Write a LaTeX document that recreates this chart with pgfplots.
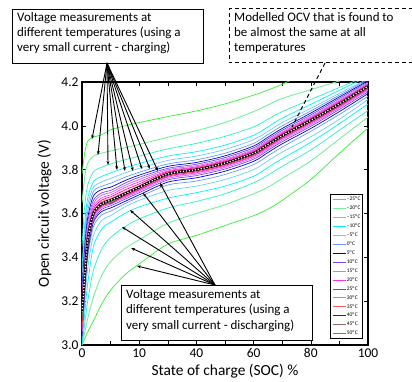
\documentclass[border=0pt]{standalone}
\usepackage{fontspec}
\setmainfont{Carlito}
\usepackage{pgfplots}
\usepackage{pgfplotstable}
\pgfplotsset{compat=1.18}
\usetikzlibrary{arrows.meta}

\definecolor{tA}{HTML}{33EE33}
\definecolor{tB}{HTML}{77EE99}
\definecolor{tC}{HTML}{22F5C0}
\definecolor{tD}{HTML}{00F0FF}
\definecolor{tE}{HTML}{66CCFF}
\definecolor{tF}{HTML}{6699EE}
\definecolor{tG}{HTML}{0000CC}
\definecolor{tH}{HTML}{7744EE}
\definecolor{tI}{HTML}{CC77FF}
\definecolor{tJ}{HTML}{FF33EE}
\definecolor{tK}{HTML}{FF0099}
\definecolor{tL}{HTML}{FF6688}
\definecolor{tM}{HTML}{FF5555}
\definecolor{tN}{HTML}{990000}
\definecolor{tO}{HTML}{996666}
\definecolor{tP}{HTML}{777777}

\pgfplotstableread{
s B cm25 cm20 cm15 cm10 cm5 c0 c5 c10 c15 c20 c25 c30 c35 c40 c45 c50 dm25 dm20 dm15 dm10 dm5 d0 d5 d10 d15 d20 d25 d30 d35 d40 d45 d50
0 3.15 3.78 3.65 3.45 3.35 3.30 3.27 3.25 3.23 3.21 3.20 3.19 3.18 3.17 3.165 3.16 3.155 3.00 3.00 3.00 3.01 3.02 3.03 3.04 3.05 3.06 3.07 3.08 3.09 3.10 3.11 3.12 3.13
1 3.32 3.88 3.77 3.64 3.56 3.52 3.48 3.45 3.42 3.40 3.38 3.36 3.345 3.335 3.33 3.325 3.322 3.03 3.06 3.10 3.15 3.20 3.24 3.26 3.28 3.29 3.30 3.305 3.31 3.313 3.315 3.317 3.318
2 3.48 3.93 3.83 3.73 3.67 3.64 3.61 3.58 3.56 3.54 3.52 3.505 3.495 3.49 3.486 3.483 3.481 3.06 3.12 3.20 3.28 3.35 3.40 3.42 3.44 3.45 3.46 3.465 3.47 3.473 3.475 3.477 3.478
4 3.60 3.948 3.862 3.79 3.745 3.72 3.70 3.68 3.66 3.645 3.632 3.62 3.61 3.605 3.603 3.602 3.601 3.11 3.22 3.34 3.45 3.50 3.54 3.56 3.57 3.58 3.585 3.59 3.593 3.595 3.597 3.598 3.599
7 3.645 3.96 3.876 3.812 3.77 3.745 3.725 3.71 3.695 3.685 3.672 3.662 3.655 3.65 3.648 3.647 3.646 3.19 3.32 3.44 3.53 3.57 3.595 3.61 3.62 3.628 3.633 3.637 3.639 3.64 3.641 3.642 3.643
10 3.66 3.982 3.885 3.826 3.785 3.76 3.738 3.72 3.705 3.695 3.685 3.676 3.668 3.664 3.663 3.662 3.661 3.25 3.38 3.49 3.56 3.59 3.61 3.625 3.635 3.642 3.648 3.651 3.653 3.648 3.645 3.647 3.65
15 3.69 4.00 3.90 3.845 3.808 3.785 3.765 3.75 3.738 3.728 3.718 3.707 3.698 3.694 3.693 3.692 3.691 3.32 3.44 3.54 3.60 3.63 3.645 3.655 3.665 3.672 3.677 3.68 3.683 3.685 3.687 3.688 3.689
20 3.72 4.015 3.915 3.862 3.828 3.806 3.788 3.775 3.765 3.755 3.745 3.735 3.727 3.724 3.723 3.722 3.721 3.37 3.48 3.575 3.63 3.66 3.675 3.685 3.695 3.702 3.707 3.71 3.713 3.715 3.717 3.718 3.719
30 3.78 4.042 3.948 3.895 3.862 3.842 3.826 3.815 3.806 3.80 3.794 3.79 3.786 3.784 3.783 3.782 3.781 3.46 3.555 3.625 3.67 3.705 3.73 3.743 3.753 3.76 3.766 3.77 3.773 3.775 3.777 3.778 3.779
40 3.80 4.068 3.978 3.92 3.882 3.862 3.845 3.833 3.825 3.818 3.813 3.809 3.806 3.804 3.803 3.802 3.801 3.50 3.60 3.655 3.695 3.725 3.748 3.763 3.773 3.78 3.786 3.79 3.793 3.795 3.797 3.798 3.799
50 3.83 4.10 4.015 3.952 3.912 3.892 3.875 3.863 3.855 3.848 3.843 3.839 3.836 3.834 3.833 3.832 3.831 3.545 3.64 3.69 3.725 3.755 3.778 3.793 3.803 3.81 3.816 3.82 3.823 3.825 3.827 3.828 3.829
60 3.875 4.14 4.065 3.995 3.957 3.937 3.92 3.908 3.90 3.893 3.888 3.884 3.881 3.879 3.878 3.877 3.876 3.59 3.69 3.74 3.77 3.80 3.823 3.838 3.848 3.855 3.861 3.865 3.868 3.87 3.872 3.873 3.874
65 3.915 4.163 4.095 4.03 3.995 3.975 3.96 3.948 3.94 3.933 3.928 3.924 3.921 3.919 3.918 3.917 3.916 3.62 3.72 3.775 3.81 3.84 3.863 3.878 3.888 3.895 3.901 3.905 3.908 3.91 3.912 3.913 3.914
70 3.955 4.19 4.125 4.065 4.035 4.015 4.00 3.988 3.98 3.973 3.968 3.964 3.961 3.959 3.958 3.957 3.956 3.66 3.76 3.815 3.85 3.88 3.903 3.918 3.928 3.935 3.941 3.945 3.948 3.95 3.952 3.953 3.954
80 4.025 4.25 4.165 4.12 4.098 4.08 4.068 4.058 4.05 4.043 4.038 4.034 4.031 4.029 4.028 4.027 4.026 3.755 3.84 3.89 3.925 3.95 3.975 3.988 3.998 4.005 4.011 4.015 4.018 4.02 4.022 4.023 4.024
90 4.10 4.31 4.205 4.175 4.162 4.148 4.14 4.132 4.125 4.118 4.113 4.109 4.106 4.104 4.103 4.102 4.101 3.875 3.94 3.98 4.01 4.03 4.052 4.065 4.075 4.082 4.087 4.09 4.093 4.095 4.097 4.098 4.099
100 4.18 4.37 4.25 4.23 4.225 4.215 4.21 4.205 4.20 4.195 4.19 4.189 4.186 4.184 4.183 4.182 4.181 3.99 4.04 4.07 4.10 4.12 4.135 4.147 4.155 4.162 4.167 4.17 4.173 4.175 4.177 4.178 4.179
}\data

\newcommand{\tpair}[4]{%
  \addplot[color=#1, line width=#2, smooth] table[x=s,y=c#3]{\data};
  \addlegendentry{#4}
  \addplot[color=#1, line width=#2, smooth, forget plot] table[x=s,y=d#3]{\data};
}

\begin{document}
\begin{tikzpicture}
\begin{axis}[
  at={(0,0)}, anchor=south west,
  scale only axis, width=286bp, height=263bp,
  xmin=0, xmax=100, ymin=3, ymax=4.2,
  xtick={0,20,40,60,80,100},
  xticklabels={0,10,40,60,80,100},
  minor xtick={10,30,50,70,90},
  ytick={3.0,3.2,3.4,3.6,3.8,4.0,4.2},
  yticklabel style={/pgf/number format/.cd, fixed, fixed zerofill, precision=1},
  /pgf/number format/assume math mode=true,
  tick align=inside,
  major tick length=4pt, minor tick length=4pt,
  tick style={black, line width=0.6pt},
  axis line style={line width=1.6pt},
  tick label style={font=\fontsize{13.5}{15}\selectfont},
  label style={font=\fontsize{15.5}{17}\selectfont},
  ylabel style={yshift=3pt},
  xlabel={State of charge (SOC) \%},
  ylabel={Open circuit voltage (V)},
  legend cell align=left,
  legend style={at={(rel axis cs:0.983,0.023)}, anchor=south east,
    font=\fontsize{5.5}{6}\selectfont, draw=black, line width=1pt,
    inner sep=1.5pt, row sep=2.4pt, nodes={inner sep=0.6pt}},
  legend image code/.code={\draw[#1, line width=0.8pt] (0bp,0bp) -- (13bp,0bp);},
]
\tpair{tA}{0.7pt}{m25}{\textendash 25\textsuperscript{o}C}
\tpair{tB}{0.9pt}{m20}{\textendash 20\textsuperscript{o}C}
\tpair{tC}{0.7pt}{m15}{\textendash 15\textsuperscript{o}C}
\tpair{tD}{0.7pt}{m10}{\textendash 10\textsuperscript{o}C}
\tpair{tE}{0.7pt}{m5}{\textendash 5\textsuperscript{o}C}
\tpair{tF}{0.7pt}{0}{0\textsuperscript{o}C}
\tpair{tG}{0.7pt}{5}{5\textsuperscript{o}C}
\tpair{tH}{0.7pt}{10}{10\textsuperscript{o}C}
\tpair{tI}{0.9pt}{15}{15\textsuperscript{o}C}
\tpair{tJ}{0.7pt}{20}{20\textsuperscript{o}C}
\tpair{tK}{0.7pt}{25}{25\textsuperscript{o}C}
\tpair{tL}{0.7pt}{30}{30\textsuperscript{o}C}
\tpair{tM}{0.7pt}{35}{35\textsuperscript{o}C}
\tpair{tN}{0.7pt}{40}{40\textsuperscript{o}C}
\tpair{tO}{0.7pt}{45}{45\textsuperscript{o}C}
\tpair{tP}{0.7pt}{50}{50\textsuperscript{o}C}
\addplot[black, line width=2.4pt, smooth, forget plot] table[x=s,y=B]{\data};
\addplot[white, line width=1.3pt, smooth, dash pattern=on 1.2pt off 1.8pt, forget plot] table[x=s,y=B]{\data};
\end{axis}

\begin{scope}[x=1bp, y=-1bp, shift={(-82bp,345bp)}]
  % top box (charging)
  \draw[line width=0.9pt, fill=white] (12,9) rectangle (203,63);
  \node[anchor=north west, align=left, inner sep=0pt, font=\fontsize{13}{15}\selectfont] at (17,12)
    {Voltage measurements at\\different temperatures (using a\\very small current - charging)};
  \foreach \p in {(92,139),(98,155),(108,165),(117,170),(125,171),(133,171),(142,169),(150,169),(158,171)}
    \draw[line width=0.9pt, -{Stealth[length=4pt,width=3pt]}] (107,63) -- \p;
  % bottom box (discharging)
  \draw[line width=0.7pt, fill=white] (121,285) rectangle (312,340);
  \node[anchor=north west, align=left, inner sep=0pt, font=\fontsize{13}{15.5}\selectfont] at (126,289)
    {Voltage measurements at\\different temperatures (using a\\very small current - discharging)};
  \foreach \p in {(137,266),(131,248),(122,227),(130,210),(143,193),(160,183)}
    \draw[line width=0.9pt, -{Stealth[length=4pt,width=3pt]}] (215,285) -- \p;
  % dashed box (modelled OCV)
  \draw[line width=1pt, dash pattern=on 4pt off 3pt] (420,9) -- (229,9) -- (229,63) -- (420,63);
  \node[anchor=north west, align=left, inner sep=0pt, font=\fontsize{13}{15}\selectfont] at (234,12)
    {Modelled OCV that is found to\\be almost the same at all\\temperatures};
  \draw[line width=1pt, dash pattern=on 4pt off 3pt] (325,63) -- (292,127);
\end{scope}
\pgfresetboundingbox
\path[use as bounding box] (-82bp,-37bp) rectangle (330bp,345bp);
\end{tikzpicture}
\end{document}
